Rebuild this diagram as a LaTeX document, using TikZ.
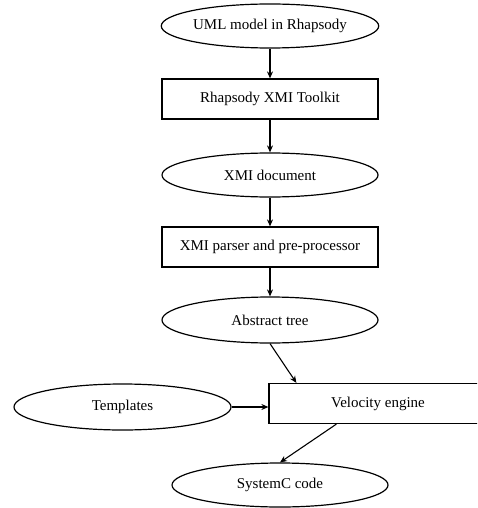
\documentclass[tikz,border=0pt]{standalone}
\usepackage{fontspec}
\setmainfont{Liberation Serif}
\usetikzlibrary{shapes.geometric,arrows.meta}
\tikzset{
  every node/.style={font=\fontsize{15}{18}\selectfont, inner sep=0pt},
  ell/.style={draw, ellipse, line width=1.2pt, minimum width=216pt, minimum height=44pt},
  box/.style={draw, rectangle, line width=1.2pt, minimum width=216pt, minimum height=40pt},
  conn/.style={line width=1.1pt, -{Stealth[length=7pt,width=6pt]}}
}
\begin{document}
\begin{tikzpicture}[x=1pt,y=1pt]
\useasboundingbox (0,0) rectangle (477,-508);
\clip (0,0) rectangle (477,-508);
\node[ell] (e1) at (270,-26) {UML model in Rhapsody};
\node[box] (r1) at (270,-99) {Rhapsody XMI Toolkit};
\node[ell] (e2) at (270,-175) {XMI document};
\node[box] (r2) at (270,-247) {XMI parser and pre-processor};
\node[ell, minimum height=46pt] (e3) at (270,-320) {Abstract tree};
\node[box, minimum width=218pt] (vel) at (378,-403.5) {Velocity engine};
\node[ell, minimum width=217pt, minimum height=46pt] (tmpl) at (122.5,-407) {Templates};
\node[ell] (sysc) at (280,-485) {SystemC code};
\draw[conn] (e1.south) -- (r1.north);
\draw[conn] (r1.south) -- (e2.north);
\draw[conn] (e2.south) -- (r2.north);
\draw[conn] (r2.south) -- (e3.north);
\draw[conn] (e3.south) -- ([xshift=28pt]vel.north west);
\draw[conn] (tmpl.east) -- (tmpl.east -| vel.west);
\draw[conn] ([xshift=68pt]vel.south west) -- (sysc.north);
\end{tikzpicture}
\end{document}
